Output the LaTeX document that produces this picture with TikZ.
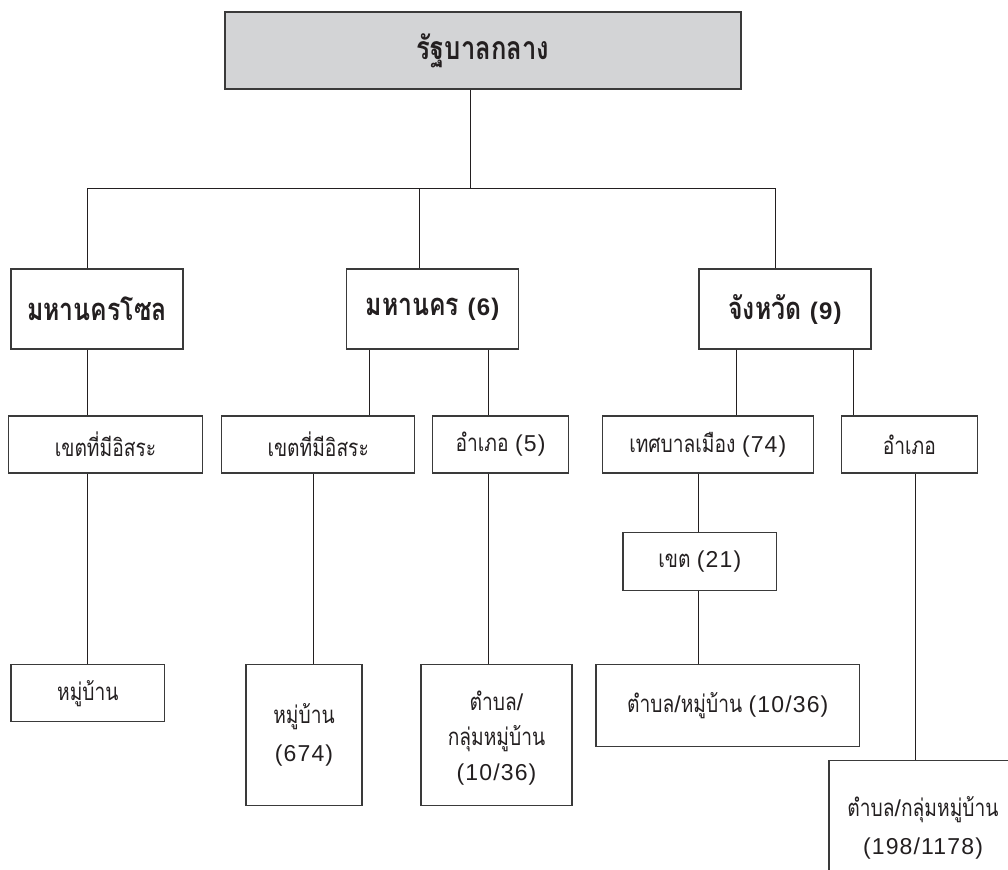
\documentclass[tikz,border=0pt]{standalone}
\usepackage{fontspec}
\newfontfamily\thaifont[Script=Thai,FakeStretch=0.8]{Loma}
\newfontfamily\numfont[LetterSpace=5]{Liberation Sans}
% figures and slashes are set in a Helvetica-like face
\newcommand\numpart[2][23]{{\fontsize{#1}{38}\selectfont\numfont #2}}
\definecolor{ink}{HTML}{231F20}
\definecolor{boxline}{HTML}{3A3A3A}
\definecolor{headfill}{HTML}{D3D4D6}
\begin{document}
\begin{tikzpicture}[x=1pt,y=-1pt,
  box/.style={draw=boxline,line width=1.3pt,rectangle,inner sep=0pt,text=ink,align=center},
  headbox/.style={box,fill=headfill,font=\thaifont\bfseries\fontsize{32}{36}\selectfont},
  levelone/.style={box,font=\thaifont\bfseries\fontsize{31}{36}\selectfont},
  unitbox/.style={box,font=\thaifont\fontsize{24}{38}\selectfont},
  link/.style={draw=ink,line width=0.9pt}]
\useasboundingbox (0,0) rectangle (1008,869);
\clip (0,0) rectangle (1008,869);

% central government
\node[headbox,minimum width=516pt,minimum height=77pt] (top) at (483,50.5) {รัฐบาลกลาง};

% first tier
\node[levelone,minimum width=172pt,minimum height=80pt] (seoul) at (97,309) {มหานครโซล};
\node[levelone,minimum width=172pt,minimum height=80pt] (metro) at (432.6,309) {มหานคร \numpart[24]{(6)}};
\node[levelone,minimum width=172pt,minimum height=80pt] (prov) at (785,309) {จังหวัด \numpart[24]{(9)}};

% second tier
\node[unitbox,minimum width=194pt,minimum height=57pt] (seoulkhet) at (105.5,444.4) {เขตที่มีอิสระ};
\node[unitbox,minimum width=193pt,minimum height=57pt] (metrokhet) at (318.2,444.4) {เขตที่มีอิสระ};
\node[unitbox,minimum width=136pt,minimum height=57pt] (amphoefive) at (500.5,444.4) {อำเภอ \numpart{(5)}};
\node[unitbox,minimum width=211pt,minimum height=57pt] (thesaban) at (707.8,444.4) {เทศบาลเมือง \numpart{(74)}};
\node[unitbox,minimum width=136pt,minimum height=57pt] (amphoe) at (909.3,444.4) {อำเภอ};
\node[unitbox,minimum width=153.5pt,minimum height=57.6pt] (khet) at (699.8,561.5) {เขต \numpart{(21)}};

% third tier
\node[unitbox,minimum width=153.6pt,minimum height=57pt] (mua) at (87.8,693.2) {หมู่บ้าน};
\node[unitbox,minimum width=116pt,minimum height=140.6pt] (mub) at (304,735) {หมู่บ้าน\\\numpart{(674)}};
\node[unitbox,minimum width=151pt,minimum height=140.6pt,font=\thaifont\fontsize{24}{35}\selectfont] (tambona) at (496.5,735) {\rule{0pt}{26pt}ตำบล\numpart{/}\\กลุ่มหมู่บ้าน\\\numpart{(10/36)}};
\node[unitbox,minimum width=263.5pt,minimum height=82pt] (tambonb) at (727.8,705.7) {ตำบล\numpart{/}หมู่บ้าน \numpart{(10/36)}};
\node[unitbox,minimum width=188pt,minimum height=134pt] (tambonc) at (923,827.7) {ตำบล\numpart{/}กลุ่มหมู่บ้าน\\\numpart{(198/1178)}};

% connector columns
\coordinate (bus) at (470.6,188);
\coordinate (xa) at (87.4,0);
\coordinate (xb) at (419.8,0);
\coordinate (xc) at (775,0);
\coordinate (xd) at (369.6,0);
\coordinate (xe) at (488,0);
\coordinate (xf) at (736,0);
\coordinate (xg) at (853.7,0);
\coordinate (xh) at (313,0);
\coordinate (xi) at (698.8,0);
\coordinate (xj) at (915.4,0);

\draw[link] (top.south -| bus) -- (bus);
\draw[link] (bus -| xa) -- (bus -| xc);
\draw[link] (bus -| xa) -- (seoul.north -| xa);
\draw[link] (bus -| xb) -- (metro.north -| xb);
\draw[link] (bus -| xc) -- (prov.north -| xc);

\draw[link] (seoul.south -| xa) -- (seoulkhet.north -| xa);
\draw[link] (metro.south -| xd) -- (metrokhet.north -| xd);
\draw[link] (metro.south -| xe) -- (amphoefive.north -| xe);
\draw[link] (prov.south -| xf) -- (thesaban.north -| xf);
\draw[link] (prov.south -| xg) -- (amphoe.north -| xg);

\draw[link] (seoulkhet.south -| xa) -- (mua.north -| xa);
\draw[link] (metrokhet.south -| xh) -- (mub.north -| xh);
\draw[link] (amphoefive.south -| xe) -- (tambona.north -| xe);
\draw[link] (thesaban.south -| xi) -- (khet.north -| xi);
\draw[link] (khet.south -| xi) -- (tambonb.north -| xi);
\draw[link] (amphoe.south -| xj) -- (tambonc.north -| xj);
\end{tikzpicture}
\end{document}
